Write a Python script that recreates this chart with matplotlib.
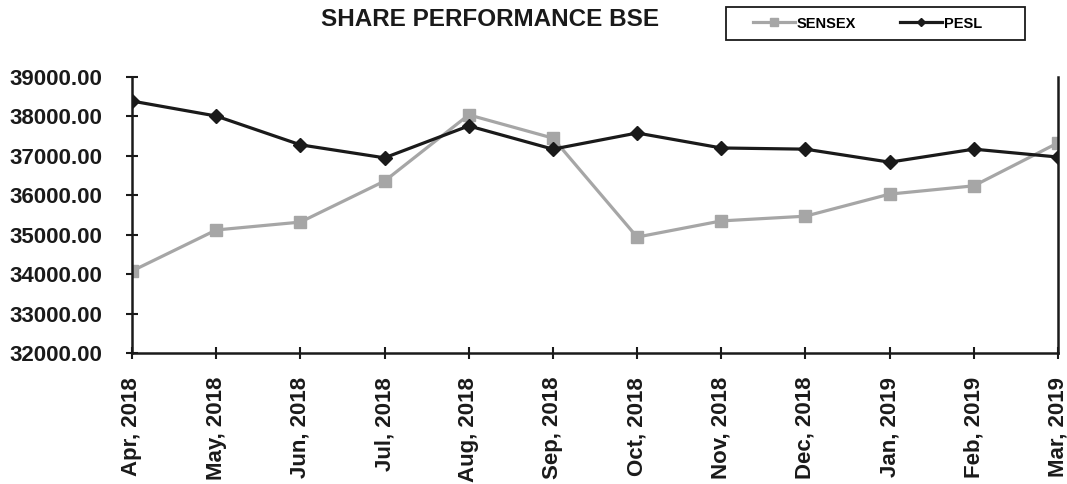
import matplotlib.pyplot as plt
from matplotlib.patches import Rectangle

plt.rcParams['font.family'] = ['Liberation Sans', 'DejaVu Sans']
plt.rcParams['font.weight'] = 'bold'

months = ['Apr, 2018', 'May, 2018', 'Jun, 2018', 'Jul, 2018', 'Aug, 2018', 'Sep, 2018',
          'Oct, 2018', 'Nov, 2018', 'Dec, 2018', 'Jan, 2019', 'Feb, 2019', 'Mar, 2019']
sensex = [34080, 35120, 35320, 36360, 38040, 37450, 34940, 35350, 35470, 36030, 36240, 37330]
pesl = [38390, 38010, 37280, 36950, 37760, 37170, 37580, 37200, 37170, 36840, 37170, 36970]

W, H = 1067, 484
fig = plt.figure(figsize=(W / 100, H / 100), dpi=100)
ax = fig.add_axes([132 / W, 1 - 353 / H, (1058 - 132) / W, (353 - 77) / H])

x = list(range(len(months)))
ax.plot(x, sensex, color='#a6a6a6', lw=2.3, marker='s', ms=8, label='SENSEX')
ax.plot(x, pesl, color='#1a1a1a', lw=2.3, marker='D', ms=7, label='PESL')

ax.set_xlim(0, len(months) - 1)
ax.set_ylim(32000, 39000)
ax.set_yticks(range(32000, 39001, 1000))
ax.set_yticklabels(['%.2f' % v for v in range(32000, 39001, 1000)], fontsize=16, fontweight='bold')
ax.set_xticks(x)
ax.set_xticklabels(months, rotation=90, fontsize=16, fontweight='bold')
ax.tick_params(axis='y', direction='inout', length=8.5, width=1.5, pad=17, colors='#1a1a1a')
ax.tick_params(axis='x', direction='inout', length=8.5, width=1.5, pad=13, colors='#1a1a1a')
ax.spines['top'].set_visible(False)
for s in ['left', 'bottom', 'right']:
    ax.spines[s].set_linewidth(1.8)
    ax.spines[s].set_color('#1a1a1a')

fig.text(490 / W, 1 - 20 / H, 'SHARE PERFORMANCE BSE', ha='center', va='center',
         fontsize=17.5, fontweight='bold', color='#1a1a1a')

# legend box drawn separately, legend entries placed inside it
fig.patches.append(Rectangle((726 / W, 1 - 40 / H), (1025 - 726) / W, 33 / H,
                             transform=fig.transFigure, fill=False,
                             edgecolor='#1a1a1a', lw=1.3))
leg = fig.legend(loc='center', bbox_to_anchor=(867.5 / W, 1 - 23.5 / H), ncol=2,
                 frameon=False, handlelength=2.9, handletextpad=0.1, columnspacing=3.0,
                 borderpad=0, markerscale=0.65, prop={'weight': 'bold', 'size': 10.5})

fig.savefig('out.png', dpi=100)
